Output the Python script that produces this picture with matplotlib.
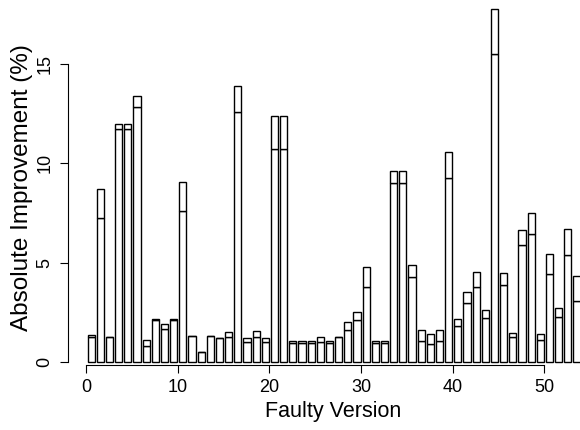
import matplotlib
matplotlib.use("Agg")
import matplotlib.pyplot as plt
import numpy as np

plt.rcParams['font.family'] = ['Liberation Sans', 'DejaVu Sans']

versions = list(range(1, 55))
total = [1.35, 8.71, 1.26, 11.97, 11.97, 13.38, 1.14, 2.18, 1.92, 2.18,
         9.08, 1.34, 0.50, 1.34, 1.24, 1.51, 13.90, 1.24, 1.57, 1.24,
         12.36, 12.36, 1.07, 1.07, 1.07, 1.26, 1.07, 1.26, 2.01, 2.53,
         4.80, 1.07, 1.07, 9.61, 9.61, 4.89, 1.61, 1.44, 1.61, 10.55,
         2.16, 3.53, 4.54, 2.63, 17.74, 4.47, 1.46, 6.66, 7.49, 1.41,
         5.44, 2.71, 6.71, 4.35]
lower = [1.26, 7.27, 1.26, 11.71, 11.71, 12.84, 0.82, 2.13, 1.66, 2.13,
         7.59, 1.30, 0.50, 1.30, 1.24, 1.26, 12.58, 1.02, 1.27, 1.02,
         10.73, 10.73, 0.95, 0.95, 0.95, 1.02, 0.95, 1.26, 1.61, 2.13,
         3.77, 0.95, 0.95, 9.01, 9.01, 4.29, 1.09, 0.90, 1.09, 9.25,
         1.81, 2.96, 3.80, 2.23, 15.49, 3.87, 1.26, 5.88, 6.45, 1.11,
         4.44, 2.29, 5.39, 3.10]
xticks = [0, 10, 20, 30, 40, 50]
yticks = [0, 5, 10, 15]

W, H = 580, 430
fig = plt.figure(figsize=(W / 100, H / 100), dpi=100)

ax_left, ax_right, ax_bottom, ax_top = 68, 580, 365, 0
ax = fig.add_axes([ax_left / W, (H - ax_bottom) / H,
                   (ax_right - ax_left) / W, (ax_bottom - ax_top) / H])

x0_px, unit_x = 86.0, 9.166
y0_px, unit_y = 362.3, 19.89
ax.set_xlim((ax_left - x0_px) / unit_x, (ax_right - x0_px) / unit_x)
ax.set_ylim((y0_px - ax_bottom) / unit_y, (y0_px - ax_top) / unit_y)

xs = np.array(versions) - 0.43
tot = np.array(total)
low = np.array(lower)
ax.bar(xs, low, width=0.78, color='white', edgecolor='black', linewidth=1.0)
ax.bar(xs, tot - low, bottom=low, width=0.78, color='white',
       edgecolor='black', linewidth=1.0)

for s in ['top', 'right']:
    ax.spines[s].set_visible(False)
ax.spines['left'].set_bounds(0, 15)
ax.spines['bottom'].set_bounds(0, 50)
ax.spines['left'].set_linewidth(0.8)
ax.spines['bottom'].set_linewidth(0.8)

ax.set_xticks(xticks)
ax.set_yticks(yticks)
ax.tick_params(axis='both', direction='out', length=5.8, width=0.8,
               labelsize=13, colors='black')
ax.tick_params(axis='x', pad=4.5)
ax.tick_params(axis='y', pad=4.5, labelrotation=90)
for lab in ax.get_yticklabels():
    lab.set_va('center')

fig.text(333 / W, 1 - 412 / H, 'Faulty Version', ha='center', va='center',
         fontsize=15.5)
fig.text(22 / W, 1 - 188 / H, 'Absolute Improvement (%)', ha='center',
         va='center', rotation=90, fontsize=17.5)

fig.savefig('out.png', dpi=100)
